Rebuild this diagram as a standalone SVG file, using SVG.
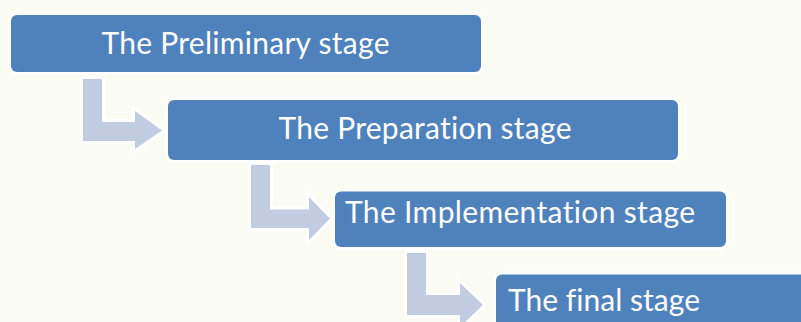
<svg xmlns="http://www.w3.org/2000/svg" width="801" height="322" viewBox="0 0 801 322">
  <style>
    .stage { fill: #4F81BD; stroke: #FFFFFF; stroke-width: 6; paint-order: stroke; }
    .bend { fill: #C1CCE1; stroke: #FFFFFF; stroke-width: 6; paint-order: stroke; stroke-linejoin: miter; }
    .label { font-family: Lato, "Open Sans", "Liberation Sans", sans-serif; font-size: 30px; fill: #FFFFFF; font-variant-ligatures: none; font-feature-settings: "liga" 0, "dlig" 0; }
  </style>
  <rect width="801" height="322" fill="#FAFBF3"/>

  <!-- bent arrows linking each stage to the next -->
  <g id="connectors">
    <path class="bend" d="M83,79 H102 V122 H135 V111 L162,130.5 L135,149 V141 H83 Z"/>
    <path class="bend" d="M251,165 H270 V209.5 H309 V197 L330,218.5 L309,240 V228 H251 Z"/>
    <path class="bend" d="M407,253 H426 V295 H460 V283 L483,305 L460,327 V315 H407 Z"/>
  </g>

  <g id="stage-preliminary">
    <rect class="stage" x="11" y="15" width="470" height="57" rx="6"/>
    <text class="label" x="101.5" y="53.5" textLength="288">The Preliminary stage</text>
  </g>

  <g id="stage-preparation">
    <rect class="stage" x="168" y="100" width="510" height="60" rx="6"/>
    <text class="label" x="278.5" y="139" textLength="293">The Preparation stage</text>
  </g>

  <g id="stage-implementation">
    <rect class="stage" x="335" y="191.5" width="391" height="55.5" rx="6"/>
    <text class="label" x="345" y="223" textLength="350">The Implementation stage</text>
  </g>

  <g id="stage-final">
    <rect class="stage" x="496" y="274.5" width="330" height="60" rx="6"/>
    <text class="label" x="508" y="311" textLength="192">The final stage</text>
  </g>
</svg>
